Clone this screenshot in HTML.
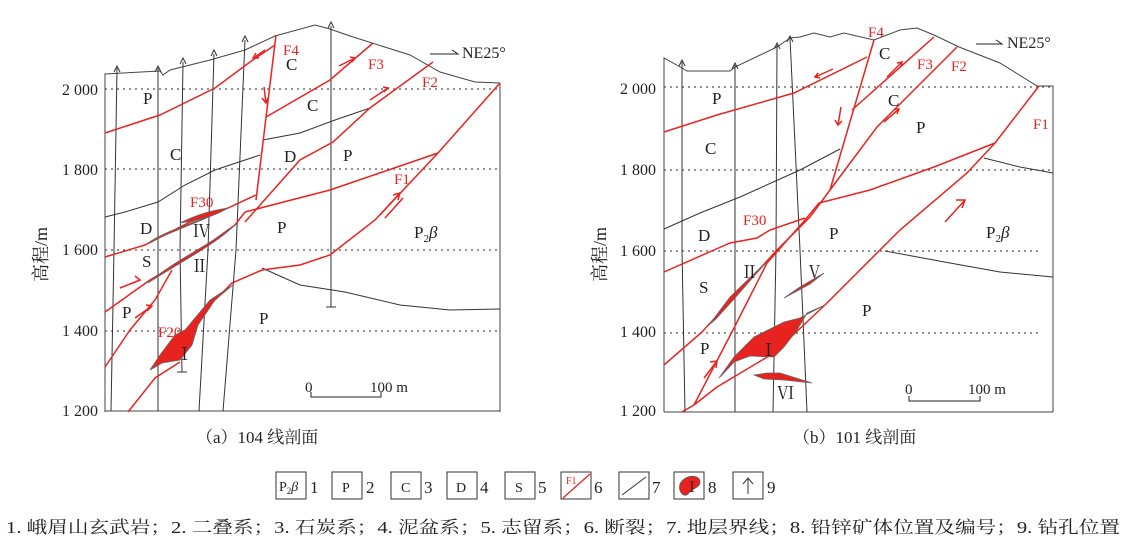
<!DOCTYPE html>
<html><head><meta charset="utf-8"><style>
html,body{margin:0;padding:0;background:#fff;}
svg{display:block;}
text{font-family:"Liberation Serif","Noto Serif CJK SC",serif;}
</style></head><body>
<svg width="1134" height="548" viewBox="0 0 1134 548" xmlns="http://www.w3.org/2000/svg">
<rect width="1134" height="548" fill="#fff"/>

<!-- ===== LEFT PANEL ===== -->
<g fill="none" stroke="#444" stroke-width="1">
<path d="M105,412 L105,74 L160,71 L163,75 L170,70 L210,60 L245,50 L275,36 L315,25 L330,29 L350,36 L410,55 L440,72 L475,82 L500,83 L500,412"/>
</g>
<g stroke="#555" stroke-width="1.2" stroke-dasharray="2,4">
<line x1="105" y1="89" x2="500" y2="89"/><line x1="105" y1="169" x2="500" y2="169"/>
<line x1="105" y1="250" x2="500" y2="250"/><line x1="105" y1="331" x2="500" y2="331"/>
</g>
<line x1="105" y1="411" x2="500" y2="411" stroke="#444" stroke-width="1"/>
<g fill="none" stroke="#333" stroke-width="1">
<path d="M117,68 L114,250 L111,411"/><path d="M158,68 L158,411"/>
<path d="M183,62 L180,250 L182,372"/><line x1="177" y1="372" x2="187" y2="372"/>
<path d="M214,54 L208,250 L199,411"/><path d="M245,40 L236,250 L223,411"/>
<path d="M331,26 L331,307"/><line x1="326" y1="307" x2="336" y2="307"/>
<path d="M114,72 L117,66 L120,72"/><path d="M155,72 L158,66 L161,72"/><path d="M180,64 L183,58 L186,64"/>
<path d="M211,56 L214,50 L217,56"/><path d="M242,42 L245,36 L248,42"/><path d="M328,28 L331,22 L334,28"/>
</g>
<g fill="none" stroke="#333" stroke-width="1">
<path d="M105,217 L125,212 L158,202 L185,185 L215,170 L260,155"/>
<path d="M263,140 L300,133 L335,120 L370,108"/>
<path d="M262,268 L300,285 L345,292 L400,305 L450,310 L500,309"/>
</g>
<g fill="none" stroke="#e8231f" stroke-width="1.5">
<path d="M276,35 L256,200"/>
<path d="M105,133 L160,115 L215,88 L250,62 L275,45"/>
<path d="M266,117 L330,80 L373,43"/>
<path d="M245,222 L300,160 L333,142 L370,108 L433,62"/>
<path d="M245,212 L330,190 L438,153"/>
<path d="M500,83 L438,153 L375,220 L330,255 L300,265 L262,270 L232,283 L215,300"/>
<path d="M105,257 L145,245 L190,222 L228,208 L256,195"/>
<path d="M105,312 L150,280 L200,250 L235,225 L245,212"/>
<path d="M105,367 L130,330 L155,300 L172,270"/>
<path d="M128,412 L155,378 L180,362"/>
<path d="M120,288 L140,280 M135,276 L140,280 L133,283"/>
<path d="M135,318 L152,306 M146,305 L152,306 L147,311"/>
<path d="M380,215 L400,193 M393,195 L400,193 L398,200 M385,218 L403,198"/>
<path d="M255,57 L265,50 M256,53 L253,58 L259,58"/>
<path d="M264,87 L266,103 M262,98 L266,103 L268,98"/>
<path d="M339,66 L355,58 M350,57 L355,58 L352,62"/>
<path d="M370,100 L388,88 M383,87 L388,88 L384,92"/>
</g>
<g fill="#e8231f" stroke="#666" stroke-width="0.8">
<path d="M148,243 C170,228 200,222 228,208 C205,220 175,230 148,243 Z"/>
<path d="M180,223 C200,213 215,210 228,208 C215,216 200,220 180,223 Z"/>
<path d="M148,283 C175,260 210,245 235,225 C215,245 180,262 148,283 Z"/>
<path d="M150,370 L162,363 L180,360 L192,345 L198,325 L215,300 L233,285 L210,300 L185,330 L175,335 L160,355 Z"/>
</g>
<g font-size="17" fill="#222">
<text x="143" y="104">P</text><text x="170" y="160">C</text><text x="140" y="234">D</text>
<text x="142" y="267">S</text><text x="122" y="318">P</text><text x="259" y="324">P</text>
<text x="193" y="237">Ⅳ</text><text x="191" y="272">Ⅱ</text><text x="176" y="360">Ⅰ</text>
<text x="286" y="70">C</text><text x="307" y="111">C</text><text x="284" y="162">D</text>
<text x="343" y="161">P</text><text x="277" y="233">P</text>
<text x="414" y="238">P<tspan font-size="11" dy="4">2</tspan><tspan dy="-4" font-style="italic">β</tspan></text>
<text x="462" y="58" font-size="16">NE25°</text>
<text x="305" y="392" font-size="15">0</text><text x="370" y="392" font-size="15">100 m</text>
</g>
<path d="M430,54 L458,54 L452,50" fill="none" stroke="#222" stroke-width="1"/>
<path d="M311,392 L311,397 L381,397 L381,392" fill="none" stroke="#222" stroke-width="1"/>
<g font-size="15" fill="#e8231f">
<text x="283" y="55">F4</text><text x="368" y="69">F3</text><text x="422" y="87">F2</text>
<text x="394" y="184">F1</text><text x="190" y="207">F30</text><text x="158" y="337">F20</text>
</g>
<g font-size="16" fill="#222">
<text x="62" y="95">2 000</text><text x="62" y="175">1 800</text><text x="62" y="255">1 600</text>
<text x="62" y="336">1 400</text><text x="62" y="416">1 200</text>
<text transform="translate(47,282) rotate(-90)" font-size="18">高程/m</text>
</g>

<!-- ===== RIGHT PANEL ===== -->
<g fill="none" stroke="#444" stroke-width="1">
<path d="M664,412 L664,58 L682,68 L687,71 L730,71 L735,67 L777,47 L790,38 L800,37 L814,33 L830,37 L844,33 L874,40 L900,30 L917,28 L934,35 L959,47 L1000,63 L1037,86 L1053,86 L1053,412"/>
</g>
<g stroke="#555" stroke-width="1.2" stroke-dasharray="2,4">
<line x1="664" y1="87" x2="1053" y2="87"/><line x1="664" y1="170" x2="1053" y2="170"/>
<line x1="664" y1="251" x2="1040" y2="251"/><line x1="664" y1="333" x2="1040" y2="333"/>
</g>
<line x1="664" y1="412" x2="1053" y2="412" stroke="#444" stroke-width="1"/>
<g fill="none" stroke="#333" stroke-width="1">
<path d="M682,62 L682,250 L685,412"/><path d="M735,65 L735,412"/>
<path d="M777,45 L776,250 L773,412"/><path d="M790,38 L800,250 L807,412"/>
<path d="M679,66 L682,60 L685,66"/><path d="M732,69 L735,63 L738,69"/>
<path d="M774,49 L777,43 L780,49"/><path d="M787,42 L790,36 L793,42"/>
</g>
<g fill="none" stroke="#333" stroke-width="1">
<path d="M664,229 L700,213 L740,197 L800,170 L840,149"/>
<path d="M984,158 L1020,167 L1053,173"/>
<path d="M885,251 L950,263 L1000,272 L1053,277"/>
</g>
<g fill="none" stroke="#e8231f" stroke-width="1.5">
<path d="M874,40 L830,190"/>
<path d="M664,132 L717,115 L794,93 L867,57"/>
<path d="M852,110 L934,37"/>
<path d="M957,47 L877,127 L830,190 L810,217 L777,250 L702,332 L664,365"/>
<path d="M1039,86 L995,143 L934,167 L870,190 L819,203 L805,220 L767,263 L734,328 L694,405 L682,412"/>
<path d="M995,143 L967,173 L900,230 L827,303 L774,353 L717,387 L694,405"/>
<path d="M664,272 L714,250 L730,243 L757,238 L770,230 L805,218"/>
<path d="M815,77 L833,69 M818,73 L815,77 L820,78"/>
<path d="M841,107 L838,125 M835,120 L838,125 L842,121"/>
<path d="M887,77 L902,62 M897,63 L902,62 L901,67"/>
<path d="M884,122 L899,109 M894,109 L899,109 L897,114"/>
<path d="M945,222 L965,200 M956,200 L965,200 L962,208"/>
<path d="M704,378 L717,361 M710,362 L717,361 L716,368"/>
</g>
<g fill="#e8231f" stroke="#666" stroke-width="0.8">
<path d="M709,325 L730,297 L760,268 L767,262 L755,275 L735,298 L715,320 Z"/>
<path d="M784,298 L800,287 L824,273 L810,284 Z"/>
<path d="M719,378 L734,357 L754,337 L784,322 L800,318 L825,305 L807,313 L797,330 L784,347 L774,357 L750,356 L734,362 L724,373 Z"/>
<path d="M754,375 L767,373 L780,373 L812,383 L784,380 L764,379 Z"/>
</g>
<g font-size="17" fill="#222">
<text x="712" y="104">P</text><text x="705" y="154">C</text><text x="698" y="241">D</text>
<text x="699" y="293">S</text><text x="700" y="354">P</text>
<text x="741" y="278">Ⅱ</text><text x="806" y="278">Ⅴ</text><text x="760" y="356">Ⅰ</text><text x="777" y="399">Ⅵ</text>
<text x="879" y="59">C</text><text x="888" y="106">C</text><text x="916" y="133">P</text>
<text x="829" y="239">P</text><text x="862" y="316">P</text>
<text x="986" y="238">P<tspan font-size="11" dy="4">2</tspan><tspan dy="-4" font-style="italic">β</tspan></text>
<text x="1007" y="48" font-size="16">NE25°</text>
<text x="905" y="394" font-size="15">0</text><text x="968" y="394" font-size="15">100 m</text>
</g>
<path d="M976,44 L1002,44 L996,40" fill="none" stroke="#222" stroke-width="1"/>
<path d="M909,396 L909,401 L980,401 L980,396" fill="none" stroke="#222" stroke-width="1"/>
<g font-size="15" fill="#e8231f">
<text x="868" y="37">F4</text><text x="917" y="69">F3</text><text x="951" y="71">F2</text>
<text x="1033" y="129">F1</text><text x="743" y="225">F30</text>
</g>
<g font-size="16" fill="#222">
<text x="620" y="94">2 000</text><text x="620" y="175">1 800</text><text x="620" y="256">1 600</text>
<text x="620" y="337">1 400</text><text x="620" y="416">1 200</text>
<text transform="translate(606,282) rotate(-90)" font-size="18">高程/m</text>
</g>

<g font-size="17" fill="#222">
<text x="196" y="443">（a）104 线剖面</text>
<text x="793" y="443">（b）101 线剖面</text>
</g>
<g fill="none" stroke="#333" stroke-width="1">
<rect x="276" y="472" width="30" height="27"/><rect x="332" y="472" width="30" height="27"/>
<rect x="391" y="472" width="30" height="27"/><rect x="447" y="472" width="30" height="27"/>
<rect x="505" y="472" width="30" height="27"/><rect x="561" y="472" width="30" height="27"/>
<rect x="619" y="472" width="30" height="27"/><rect x="674" y="472" width="30" height="27"/>
<rect x="733" y="472" width="30" height="27"/>
<path d="M622,495 L646,477"/>
<path d="M748,494 L748,479 M743,484 L748,478 L753,484"/>
</g>
<path d="M563,498 L590,474" stroke="#e8231f" stroke-width="1.3"/>
<path d="M680,484 C685,474 700,474 700,482 C700,488 692,488 688,494 C684,498 678,492 680,484 Z" fill="#e8231f" stroke="#555" stroke-width="0.8"/>
<g font-size="14" fill="#222">
<text x="279" y="491">P<tspan font-size="9" dy="3">2</tspan><tspan dy="-3" font-style="italic">β</tspan></text>
<text x="342" y="492">P</text><text x="401" y="492">C</text><text x="456" y="492">D</text><text x="515" y="492">S</text>
<text x="685" y="492">Ⅰ</text>
<text x="566" y="484" font-size="10" fill="#e8231f">F1</text>
</g>
<g font-size="17" fill="#222">
<text x="310" y="493">1</text><text x="366" y="493">2</text><text x="424" y="493">3</text><text x="480" y="493">4</text>
<text x="538" y="493">5</text><text x="594" y="493">6</text><text x="652" y="493">7</text><text x="708" y="493">8</text>
<text x="767" y="493">9</text>
</g>
<text x="6" y="533" font-size="17" fill="#222" textLength="1114" lengthAdjust="spacingAndGlyphs">1. 峨眉山玄武岩；2. 二叠系；3. 石炭系；4. 泥盆系；5. 志留系；6. 断裂；7. 地层界线；8. 铅锌矿体位置及编号；9. 钻孔位置</text>
</svg>
</body></html>
